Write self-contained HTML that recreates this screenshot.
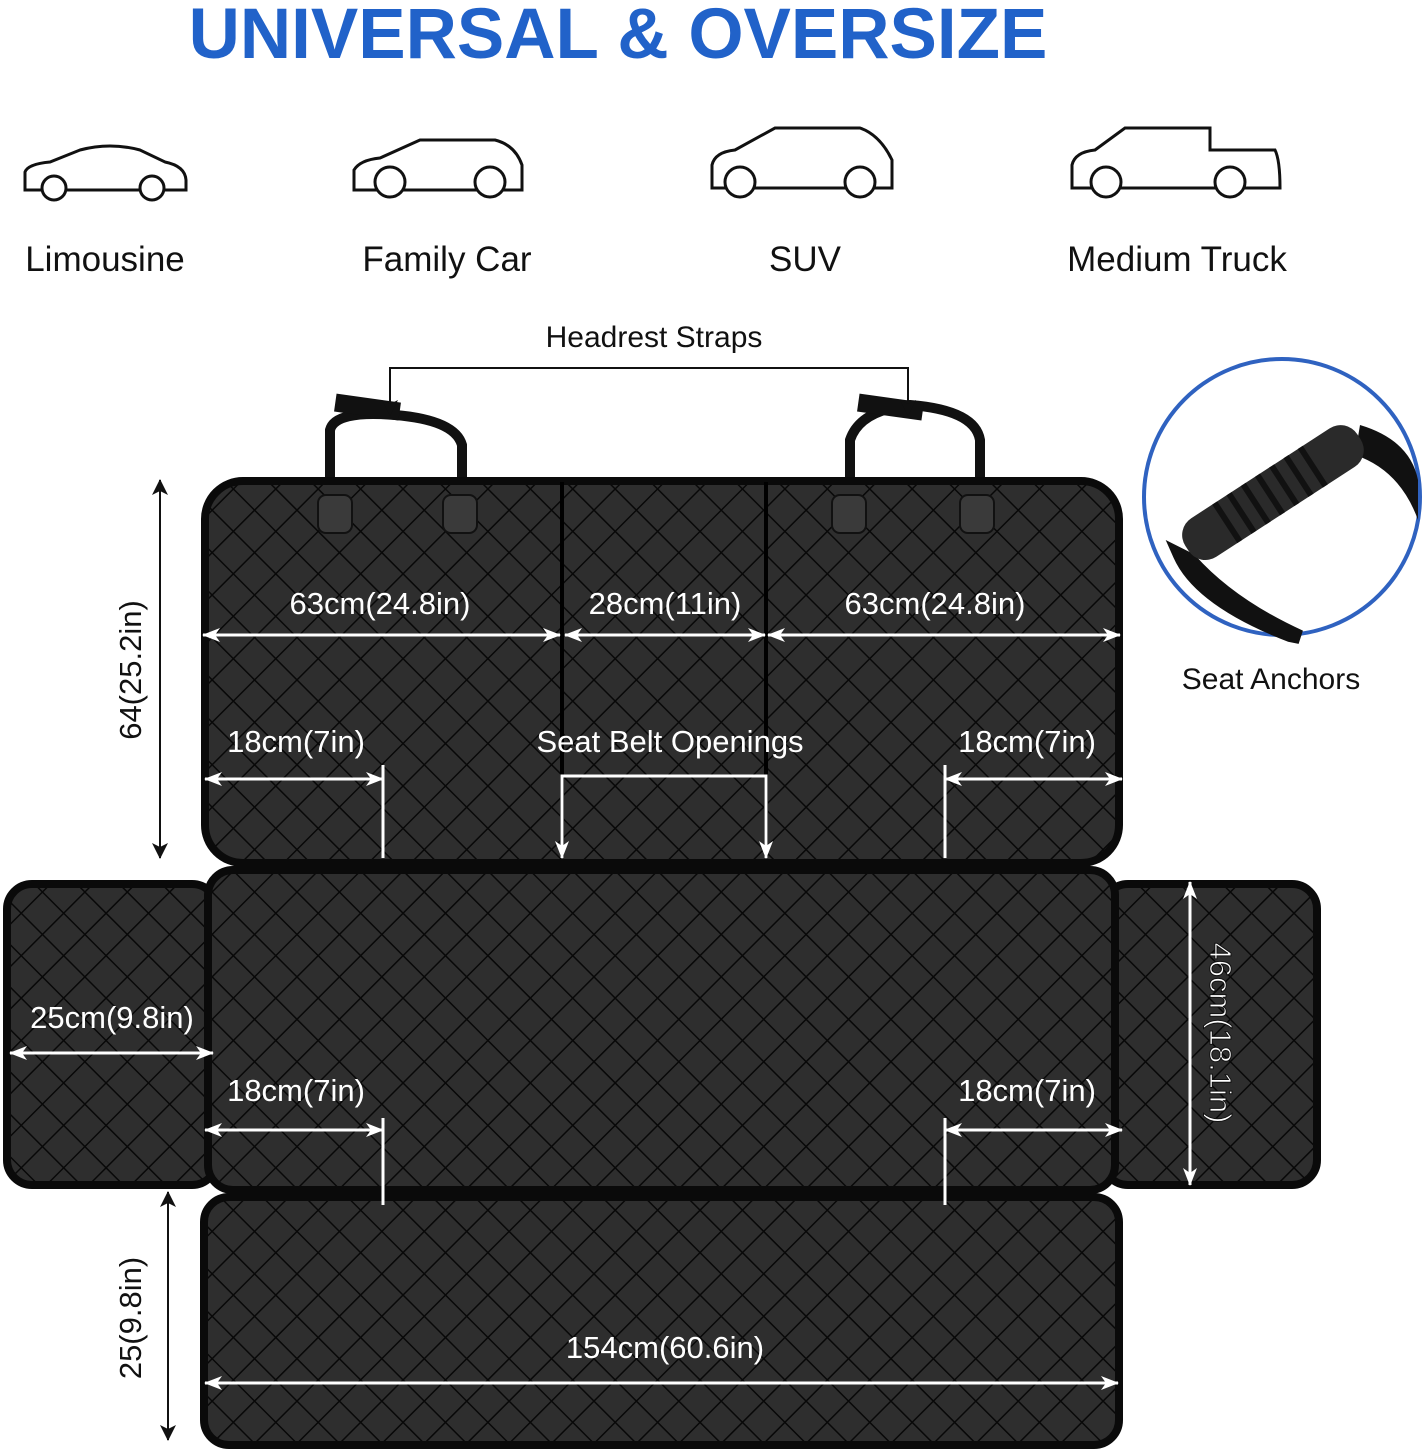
<!DOCTYPE html>
<html><head><meta charset="utf-8"><style>
html,body{margin:0;padding:0;background:#fff;}
svg{display:block;font-family:"Liberation Sans",sans-serif;}
</style></head><body>
<svg width="1423" height="1452" viewBox="0 0 1423 1452" xmlns="http://www.w3.org/2000/svg">
<defs>
<pattern id="q" width="30" height="30" patternUnits="userSpaceOnUse" patternTransform="rotate(45)">
<rect width="30" height="30" fill="#2e2e2e"/>
<path d="M0 0H30M0 0V30" stroke="#080808" stroke-width="3"/>
</pattern>
<marker id="a" markerWidth="18" markerHeight="14" refX="17" refY="7" orient="auto-start-reverse" markerUnits="userSpaceOnUse"><path d="M0 0L18 7L0 14L5 7Z" fill="#fff"/></marker>
<marker id="k" markerWidth="16" markerHeight="16" refX="15" refY="8" orient="auto-start-reverse" markerUnits="userSpaceOnUse"><path d="M0 0L16 8L0 16L4 8Z" fill="#111"/></marker>
</defs>
<text x="618" y="58" text-anchor="middle" font-size="71" font-weight="bold" fill="#2162c9">UNIVERSAL &amp; OVERSIZE</text>
<g fill="none" stroke="#111" stroke-width="3">
<path d="M25 190V172Q28 164 50 162L80 150Q110 142 140 150L165 162Q185 166 186 180V190H25Z"/><circle cx="54" cy="188" r="12" fill="#fff"/><circle cx="152" cy="188" r="12" fill="#fff"/>
<path d="M354 190V170Q360 160 380 158L420 140H495Q515 145 522 165V190Z"/><circle cx="390" cy="182" r="15" fill="#fff"/><circle cx="490" cy="182" r="15" fill="#fff"/>
<path d="M712 188V165Q715 152 735 150L775 128H860Q880 135 892 160V188Z"/><circle cx="740" cy="182" r="15" fill="#fff"/><circle cx="860" cy="182" r="15" fill="#fff"/>
<path d="M1072 188V165Q1075 152 1095 150L1125 128H1210V150H1275Q1280 160 1280 188Z"/><circle cx="1106" cy="182" r="15" fill="#fff"/><circle cx="1230" cy="182" r="15" fill="#fff"/>
</g>
<g font-size="35" fill="#111" text-anchor="middle">
<text x="105" y="271">Limousine</text><text x="447" y="271">Family Car</text><text x="805" y="271">SUV</text><text x="1177" y="271">Medium Truck</text>
<text x="654" y="347" font-size="30">Headrest Straps</text>
<text x="1271" y="689" font-size="30">Seat Anchors</text>
</g>
<g fill="none" stroke="#111" stroke-width="10">
<path d="M330 490V430Q335 410 395 415Q455 420 462 445V505"/>
<path d="M850 495V440Q860 410 910 405Q975 410 980 440V505"/>
</g>
<g fill="#111"><rect x="335" y="398" width="65" height="18" transform="rotate(8 367 407)"/><rect x="858" y="398" width="65" height="18" transform="rotate(8 890 407)"/></g>
<path d="M390 415V368H908V415" fill="none" stroke="#111" stroke-width="2" marker-start="url(#k)" marker-end="url(#k)"/>
<g stroke="#0a0a0a" stroke-width="8" fill="url(#q)">
<rect x="205" y="481" width="914" height="382" rx="38"/>
<rect x="7" y="884" width="210" height="301" rx="25"/>
<rect x="1103" y="884" width="214" height="301" rx="25"/>
<rect x="208" y="870" width="907" height="320" rx="25"/>
<rect x="204" y="1197" width="915" height="248" rx="25"/>
</g>
<g fill="#3a3a3a" stroke="#111" stroke-width="2">
<rect x="318" y="495" width="34" height="38" rx="8"/><rect x="443" y="495" width="34" height="38" rx="8"/>
<rect x="832" y="495" width="34" height="38" rx="8"/><rect x="960" y="495" width="34" height="38" rx="8"/>
</g>
<g stroke="#000" stroke-width="4"><line x1="562" y1="482" x2="562" y2="858"/><line x1="766" y1="482" x2="766" y2="858"/></g>
<g stroke="#fff" stroke-width="3" fill="none">
<line x1="203" y1="635" x2="560" y2="635" marker-start="url(#a)" marker-end="url(#a)"/>
<line x1="565" y1="635" x2="765" y2="635" marker-start="url(#a)" marker-end="url(#a)"/>
<line x1="768" y1="635" x2="1120" y2="635" marker-start="url(#a)" marker-end="url(#a)"/>
<line x1="205" y1="779" x2="383" y2="779" marker-start="url(#a)" marker-end="url(#a)"/>
<line x1="383" y1="765" x2="383" y2="858"/>
<line x1="945" y1="779" x2="1122" y2="779" marker-start="url(#a)" marker-end="url(#a)"/>
<line x1="945" y1="765" x2="945" y2="858"/>
<path d="M562 858V776H766V858" marker-start="url(#a)" marker-end="url(#a)"/>
<line x1="10" y1="1053" x2="213" y2="1053" marker-start="url(#a)" marker-end="url(#a)"/>
<line x1="205" y1="1130" x2="383" y2="1130" marker-start="url(#a)" marker-end="url(#a)"/>
<line x1="383" y1="1118" x2="383" y2="1205"/>
<line x1="945" y1="1130" x2="1122" y2="1130" marker-start="url(#a)" marker-end="url(#a)"/>
<line x1="945" y1="1118" x2="945" y2="1205"/>
<line x1="1190" y1="882" x2="1190" y2="1185" marker-start="url(#a)" marker-end="url(#a)"/>
<line x1="205" y1="1383" x2="1118" y2="1383" marker-start="url(#a)" marker-end="url(#a)"/>
</g>
<g fill="#fff" font-size="31" text-anchor="middle">
<text x="380" y="614">63cm(24.8in)</text><text x="665" y="614">28cm(11in)</text><text x="935" y="614">63cm(24.8in)</text>
<text x="296" y="752">18cm(7in)</text><text x="670" y="752">Seat Belt Openings</text><text x="1027" y="752">18cm(7in)</text>
<text x="112" y="1028">25cm(9.8in)</text><text x="296" y="1101">18cm(7in)</text><text x="1027" y="1101">18cm(7in)</text>
<text x="665" y="1358">154cm(60.6in)</text>
<text transform="translate(1210 1033) rotate(90)" fill="#fff" stroke="#111" stroke-width="1">46cm(18.1in)</text>
</g>
<g stroke="#111" stroke-width="2">
<line x1="160" y1="480" x2="160" y2="858" marker-start="url(#k)" marker-end="url(#k)"/>
<line x1="168" y1="1192" x2="168" y2="1440" marker-start="url(#k)" marker-end="url(#k)"/>
</g>
<g fill="#111" font-size="31" text-anchor="middle">
<text transform="translate(141 670) rotate(-90)">64(25.2in)</text>
<text transform="translate(141 1318) rotate(-90)">25(9.8in)</text>
</g>
<circle cx="1282" cy="497" r="138" fill="#fff" stroke="#2f62c0" stroke-width="4"/>
<path d="M1360 425Q1410 440 1418 480L1418 520Q1400 470 1355 455Z" fill="#111"/>
<path d="M1180 555Q1200 600 1290 635L1300 637Q1230 605 1190 560Z" fill="#111" stroke="#111" stroke-width="14"/>
<g transform="rotate(-33 1272 492)">
<rect x="1170" y="470" width="205" height="46" rx="20" fill="#2a2a2a"/>
<g fill="#111"><rect x="1215" y="470" width="6" height="46"/><rect x="1232" y="470" width="6" height="46"/><rect x="1249" y="470" width="6" height="46"/><rect x="1266" y="470" width="6" height="46"/><rect x="1283" y="470" width="6" height="46"/><rect x="1300" y="470" width="6" height="46"/><rect x="1317" y="470" width="6" height="46"/></g>
</g>
</svg>
</body></html>
